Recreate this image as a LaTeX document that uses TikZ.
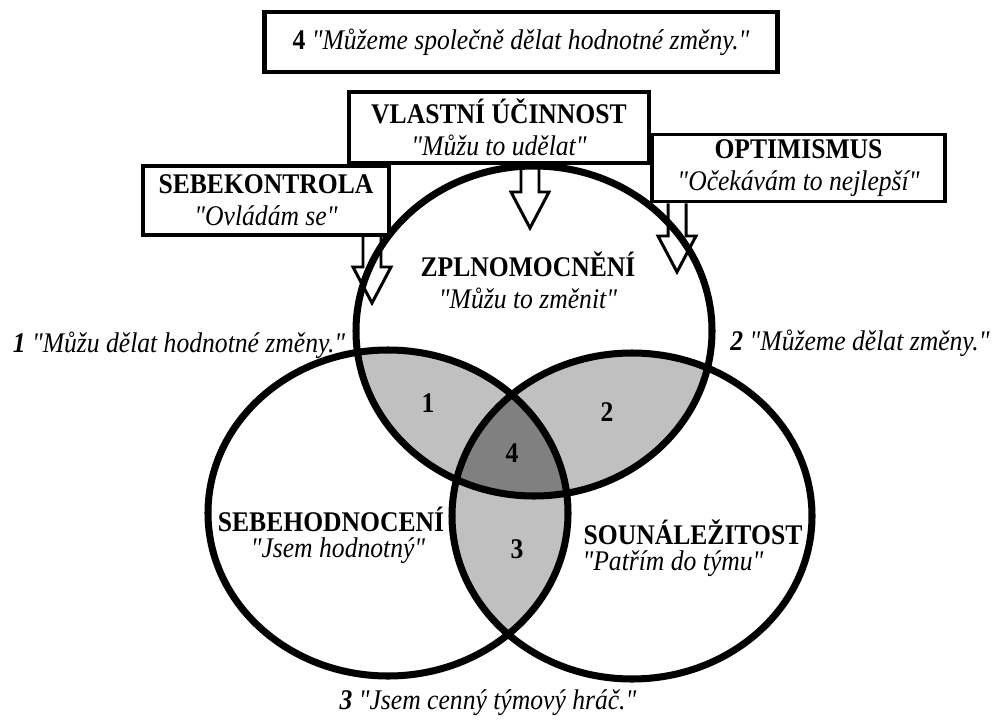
\documentclass[tikz,border=0pt]{standalone}
\usepackage{fontspec}
\setmainfont{Liberation Serif}
\newfontfamily\narrowserif[FakeStretch=0.9]{Liberation Serif}
\usepackage{xcolor}
\usetikzlibrary{calc,positioning}
\definecolor{lite}{HTML}{C0C0C0}
\definecolor{dark}{HTML}{808080}
\newcommand\qm{\symbol{34}}
\newcommand\blockarrow[2]{\draw[blk] ($(#1)+(-9,0)$) -- ($(#2)+(-9,-36)$) -- ($(#2)+(-19,-36)$) -- (#2) -- ($(#2)+(19,-36)$) -- ($(#2)+(9,-36)$) -- ($(#1)+(9,0)$);}

\begin{document}
\begin{tikzpicture}[x=0.02cm, y=-0.02cm, node distance=2mm and 2mm,
  every node/.style={font=\narrowserif\fontsize{16.2}{17}\selectfont, inner sep=0pt},
  box/.style={draw, line width=2pt, align=center, fill=white},
  ring/.style={line width=4pt},
  hd/.style={font=\narrowserif\bfseries\fontsize{16.2}{17}\selectfont},
  qt/.style={font=\narrowserif\itshape\fontsize{16.2}{17}\selectfont},
  blk/.style={line width=1.7pt, line join=miter}]
  \useasboundingbox (0,0) rectangle (994,720);
  \coordinate (ct) at (534,331);
  \coordinate (cl) at (388,513);
  \coordinate (cr) at (632,516);
  \begin{scope}
    \clip (ct) ellipse (178 and 165);
    \fill[lite] (cl) ellipse (180 and 163);
    \fill[lite] (cr) ellipse (180 and 163);
  \end{scope}
  \begin{scope}
    \clip (cl) ellipse (180 and 163);
    \fill[lite] (cr) ellipse (180 and 163);
  \end{scope}
  \begin{scope}
    \clip (ct) ellipse (178 and 165);
    \clip (cl) ellipse (180 and 163);
    \fill[dark] (cr) ellipse (180 and 163);
  \end{scope}
  \draw[ring] (ct) ellipse (178 and 165);
  \draw[ring] (cl) ellipse (180 and 163);
  \draw[ring] (cr) ellipse (180 and 163);

  \node (w) [box, line width=2.8pt, minimum width=10.26cm, minimum height=1.2cm] at (521,42)
    {{\bfseries 4} \itshape \qm Můžeme společně dělat hodnotné změny.\qm};
  \node (v) [box, minimum width=6cm, minimum height=1.42cm] at (499,127.5)
    {{\bfseries VLASTNÍ ÚČINNOST}\\[1pt]\itshape\qm Můžu to udělat\qm};
  \node (o) [box, minimum width=5.86cm, minimum height=1.34cm] at (798.5,168)
    {{\bfseries OPTIMISMUS}\\[1pt]\itshape\qm Očekávám to nejlepší\qm};
  \node (s) [box, minimum width=4.92cm, minimum height=1.38cm] at (266,200.5)
    {{\bfseries SEBEKONTROLA}\\[1pt]\itshape\qm Ovládám se\qm};

  \coordinate (ts) at (372,303);
  \coordinate (tv) at (530,228);
  \coordinate (to) at (677,272);
  \coordinate (bs) at (ts |- s.south);
  \coordinate (bv) at (tv |- v.south);
  \coordinate (bo) at (to |- o.south);
  \blockarrow{bs}{ts}
  \blockarrow{bv}{tv}
  \blockarrow{bo}{to}

  \node (z) [hd] at (528,264) {ZPLNOMOCNĚNÍ};
  \node (zq) [qt] at (528,298) {\qm Můžu to změnit\qm};
  \node (h) [hd] at (331,519) {SEBEHODNOCENÍ};
  \node (hq) [qt] at (338,551) {\qm Jsem hodnotný\qm};
  \node (p) [hd] at (693,532) {SOUNÁLEŽITOST};
  \node (pq) [qt] at (673,564) {\qm Patřím do týmu\qm};

  \node (n1) [hd] at (428,403) {1};
  \node (n2) [hd] at (607,412) {2};
  \node (n4) [hd] at (512,453) {4};
  \node (n3) [hd] at (517,549) {3};

  \node (l1) [qt] at (179,345) {{\bfseries 1} \qm Můžu dělat hodnotné změny.\qm};
  \node (l2) [qt] at (860,343) {{\bfseries 2} \qm Můžeme dělat změny.\qm};
  \node (l3) [qt] at (488,703) {{\bfseries 3} \qm Jsem cenný týmový hráč.\qm};
\end{tikzpicture}
\end{document}
